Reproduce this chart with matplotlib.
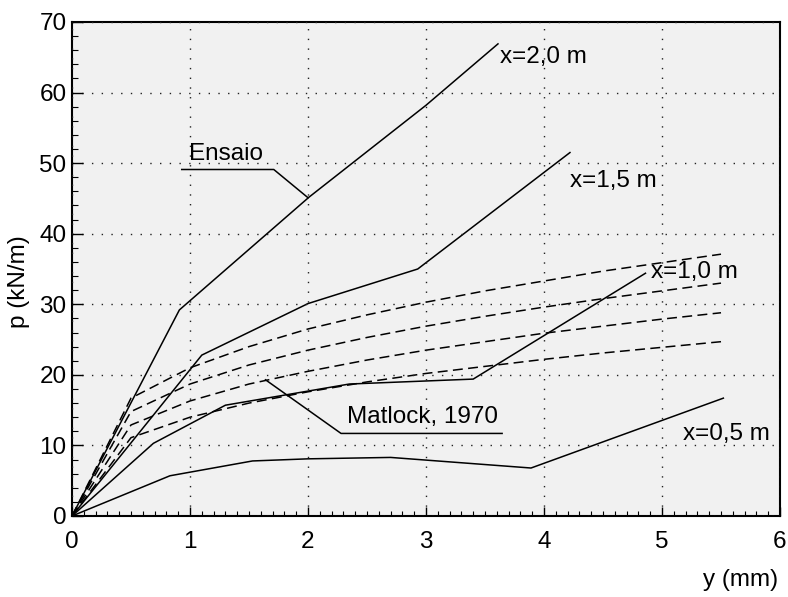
import numpy as np
import matplotlib
matplotlib.use('Agg')
import matplotlib.pyplot as plt
from matplotlib.ticker import MultipleLocator

plt.rcParams['font.family'] = ['Liberation Sans', 'DejaVu Sans']

# ensaio (test) curves, solid
y_05 = [0, 0.83, 1.53, 2.0, 2.7, 3.89, 5.52]
p_05 = [0, 5.7, 7.8, 8.1, 8.3, 6.8, 16.7]
y_10 = [0, 0.69, 1.3, 2.35, 3.4, 4.86]
p_10 = [0, 10.3, 15.7, 18.7, 19.4, 34.4]
y_15 = [0, 1.1, 2.0, 2.93, 4.22]
p_15 = [0, 22.8, 30.1, 35.0, 51.5]
y_20 = [0, 0.91, 2.01, 3.0, 3.61]
p_20 = [0, 29.2, 45.2, 58.2, 66.9]

# Matlock 1970 curves, dashed
y_mat = [0, 0.5, 1.0, 1.5, 2.0, 2.5, 3.0, 3.5, 4.0, 4.5, 5.0, 5.5]
p_mat1 = [0, 16.7, 21.0, 24.0, 26.5, 28.5, 30.3, 31.9, 33.3, 34.7, 35.9, 37.1]
p_mat2 = [0, 14.8, 18.7, 21.4, 23.5, 25.3, 26.9, 28.3, 29.6, 30.8, 31.9, 33.0]
p_mat3 = [0, 12.9, 16.3, 18.7, 20.5, 22.1, 23.5, 24.7, 25.9, 26.9, 27.9, 28.8]
p_mat4 = [0, 11.1, 14.0, 16.0, 17.6, 19.0, 20.2, 21.2, 22.2, 23.1, 23.9, 24.7]

fs = 17.5
fig = plt.figure(figsize=(7.88, 5.97), dpi=100)
ax = fig.add_axes([72/788, 81/597, 708/788, 494/597])
ax.set_facecolor('#f1f1f1')

for yy, pp in [(y_05, p_05), (y_10, p_10), (y_15, p_15), (y_20, p_20)]:
    ax.plot(yy, pp, color='black', lw=1.1, solid_joinstyle='miter')

for pp in [p_mat1, p_mat2, p_mat3, p_mat4]:
    ax.plot(y_mat, pp, color='black', lw=1.1, linestyle=(0, (6.5, 3.5)))

# labels of curves
ax.text(3.63, 65.0, 'x=2,0 m', fontsize=fs, va='center', ha='left')
ax.text(4.22, 47.5, 'x=1,5 m', fontsize=fs, va='center', ha='left')
ax.text(4.91, 34.6, 'x=1,0 m', fontsize=fs, va='center', ha='left')
ax.text(5.18, 11.6, 'x=0,5 m', fontsize=fs, va='center', ha='left')

# Ensaio pointer
ax.text(0.995, 50.4, 'Ensaio', fontsize=fs, va='baseline', ha='left')
ax.plot([0.93, 1.71, 2.0], [49.1, 49.1, 45.1], color='black', lw=1.1)

# Matlock pointer
ax.text(2.33, 13.2, 'Matlock, 1970', fontsize=fs, va='baseline', ha='left')
ax.plot([1.64, 2.28, 3.645], [19.3, 11.7, 11.7], color='black', lw=1.1)

ax.set_xlim(0, 6)
ax.set_ylim(0, 70)
ax.xaxis.set_major_locator(MultipleLocator(1))
ax.xaxis.set_minor_locator(MultipleLocator(0.1))
ax.yaxis.set_major_locator(MultipleLocator(10))
ax.yaxis.set_minor_locator(MultipleLocator(2))

ax.tick_params(axis='x', which='major', direction='in', length=6.5, width=1.0,
               labelsize=fs, pad=11)
ax.tick_params(axis='x', which='minor', direction='in', length=3.5, width=0.8)
ax.tick_params(axis='y', which='major', direction='in', length=8, width=1.0,
               labelsize=fs, pad=4)
ax.tick_params(axis='y', which='minor', direction='in', length=4.5, width=0.8)

ax.grid(True, which='major', color='#222222', linestyle=(0, (1, 6)), lw=1.0)
ax.set_axisbelow(False)

for s in ax.spines.values():
    s.set_linewidth(1.5)

ax.set_ylabel('p (kN/m)', fontsize=fs)
ax.yaxis.set_label_coords(-0.059, 0.474)
fig.text(778/788, 1 - 580/597, 'y (mm)', fontsize=fs, ha='right', va='center')

fig.savefig('out.png', dpi=100, facecolor='white')
